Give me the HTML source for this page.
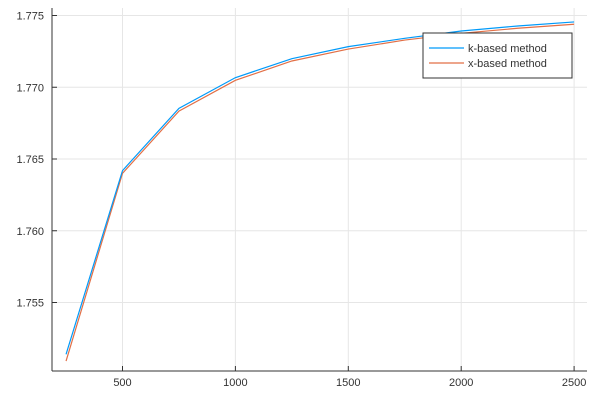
<!DOCTYPE html>
<html><head><meta charset="utf-8"><style>
body{margin:0;background:#fff}
svg{display:block;font-family:"Liberation Sans",sans-serif}
</style></head><body>
<svg id="chart" width="600" height="400">
<g id="grid"></g>
<g id="axes"></g>
<g id="series"></g>
<g id="legend">
<rect x="423" y="33" width="149" height="45" fill="#fff" stroke="#333" stroke-width="1"/>
<line x1="429" y1="48" x2="464" y2="48" stroke="#009af9" stroke-width="1.2"/>
<text x="468" y="52" font-size="11" fill="#333">k-based method</text>
<line x1="429" y1="63" x2="464" y2="63" stroke="#e26f46" stroke-width="1.2"/>
<text x="468" y="67" font-size="11" fill="#333">x-based method</text>
</g>
</svg>
<script>
const xs = [250,500,750,1000,1250,1500,1750,2000,2250,2500];
const kBased = [1.75139,1.76419,1.76853,1.77067,1.77199,1.77283,1.77341,1.77392,1.77427,1.77455];
const xBased = [1.75092,1.76400,1.76834,1.77048,1.77183,1.77266,1.77329,1.77376,1.77411,1.77439];
const xTicks = [500,1000,1500,2000,2500];
const yTicks = [1.755,1.760,1.765,1.770,1.775];
const yTickLabels = ["1.755","1.760","1.765","1.770","1.775"];

const L=52,R=587,T=8,B=371;
const sx=v=>122.5+(v-500)*(112.9/500);
const sy=v=>15.5+(1.775-v)*14350;
const NS="http://www.w3.org/2000/svg";
function mk(tag,attrs,parent){const e=document.createElementNS(NS,tag);for(const k in attrs)e.setAttribute(k,attrs[k]);parent.appendChild(e);return e;}
const grid=document.getElementById('grid'),axes=document.getElementById('axes'),series=document.getElementById('series');
xTicks.forEach(t=>{
  const g=mk('line',{x1:sx(t),x2:sx(t),y1:T,y2:B,stroke:'#e6e6e6','stroke-width':1},grid);
  
  
  const tk=mk('line',{x1:sx(t),x2:sx(t),y1:B,y2:B-5,stroke:'#333'},axes);
  
  
  const tx=mk('text',{x:sx(t),y:386,'font-size':11,fill:'#333','text-anchor':'middle'},axes);
  tx.textContent=t;
  
  
});
yTicks.forEach((t,i)=>{
  const g=mk('line',{x1:L,x2:R,y1:sy(t),y2:sy(t),stroke:'#e6e6e6','stroke-width':1},grid);
  
  
  const tk=mk('line',{x1:L,x2:L+5,y1:sy(t),y2:sy(t),stroke:'#333'},axes);
  
  
  const tx=mk('text',{x:44,y:sy(t)+4,'font-size':11,fill:'#333','text-anchor':'end'},axes);
  tx.textContent=yTickLabels[i];
  
  
});
const xa=mk('line',{x1:L,x2:R,y1:B,y2:B,stroke:'#333'},axes);


const ya=mk('line',{x1:L,x2:L,y1:T,y2:B,stroke:'#333'},axes);


function line(vals,color,name){
  const p=mk('polyline',{points:vals.map((v,i)=>sx(xs[i])+','+sy(v)).join(' '),fill:'none',stroke:color,'stroke-width':1.2},series);
  
  
}
line(xBased,'#e26f46','x-based-line');
line(kBased,'#009af9','k-based-line');
</script>
</body></html>
